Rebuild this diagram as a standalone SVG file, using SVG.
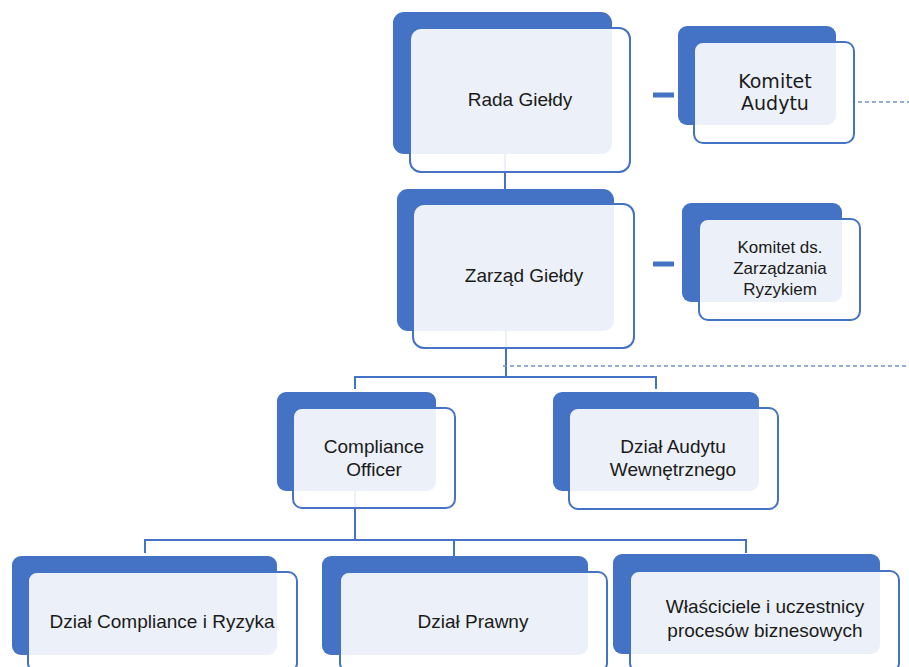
<svg xmlns="http://www.w3.org/2000/svg" width="909" height="667" viewBox="0 0 909 667">
<style>
.back{fill:#4472C4;}
.front{fill:#ffffff;fill-opacity:0.9;stroke:#4472C4;stroke-width:2;}
.conn{fill:none;stroke:#4472C4;stroke-width:2;}
.dash{fill:none;stroke:#6F92D2;stroke-width:1.5;stroke-dasharray:4 3;}
.mark{fill:#4472C4;}
.t{font-family:"Liberation Sans",Arial,sans-serif;font-size:19px;fill:#1a1a1a;text-anchor:middle;}
.tv{font-family:"DejaVu Sans",Verdana,sans-serif;font-size:19px;fill:#1a1a1a;text-anchor:middle;}
.ts{font-family:"Liberation Sans",Arial,sans-serif;font-size:17px;fill:#1a1a1a;text-anchor:middle;}
</style>
<rect width="909" height="667" fill="#ffffff"/>
<g id="connectors">
<line class="conn" x1="505" y1="150" x2="505" y2="190"/>
<polyline class="conn" points="506,328 506,377"/>
<polyline class="conn" points="355,389 355,377 656,377 656,389"/>
<line class="conn" x1="355" y1="488" x2="355" y2="540"/>
<polyline class="conn" points="145,553 145,540 746,540 746,553"/>
<line class="conn" x1="454" y1="540" x2="454" y2="556"/>
<line class="dash" x1="503" y1="366" x2="909" y2="366"/>
<line class="dash" x1="851" y1="102" x2="909" y2="102"/>
<rect class="mark" x="653" y="92.5" width="21" height="5"/>
<rect class="mark" x="653" y="261.5" width="21" height="5"/>
</g>
<g id="rada">
<rect class="back" x="393" y="12" width="219" height="142" rx="11"/>
<rect class="front" x="410" y="28" width="220" height="144" rx="11"/>
<text class="t" x="520" y="106">Rada Giełdy</text>
</g>
<g id="komitet-audytu">
<rect class="back" x="678" y="26" width="158" height="99" rx="9"/>
<rect class="front" x="694" y="42" width="160" height="101" rx="9"/>
<text class="tv" x="775" y="88">Komitet</text>
<text class="tv" x="775" y="110">Audytu</text>
</g>
<g id="zarzad">
<rect class="back" x="397" y="189" width="217" height="142" rx="11"/>
<rect class="front" x="413" y="204" width="221" height="144" rx="11"/>
<text class="t" x="524" y="282">Zarząd Giełdy</text>
</g>
<g id="komitet-ryzyko">
<rect class="back" x="682" y="203" width="160" height="99" rx="9"/>
<rect class="front" x="699" y="219" width="161" height="101" rx="9"/>
<text class="ts" x="780" y="253">Komitet ds.</text>
<text class="ts" x="780" y="274">Zarządzania</text>
<text class="ts" x="780" y="295">Ryzykiem</text>
</g>
<g id="compliance-officer">
<rect class="back" x="277" y="392" width="159" height="99" rx="9"/>
<rect class="front" x="293" y="408" width="162" height="100" rx="9"/>
<text class="t" x="374" y="453">Compliance</text>
<text class="t" x="374" y="476">Officer</text>
</g>
<g id="audyt-wewnetrzny">
<rect class="back" x="553" y="392" width="206" height="99" rx="9"/>
<rect class="front" x="569" y="408" width="209" height="101" rx="9"/>
<text class="t" x="673" y="453">Dział Audytu</text>
<text class="t" x="673" y="476">Wewnętrznego</text>
</g>
<g id="compliance-ryzyka">
<rect class="back" x="12" y="556" width="265" height="99" rx="9"/>
<rect class="front" x="28" y="572" width="269" height="100" rx="9"/>
<text class="t" x="162" y="628">Dział Compliance i Ryzyka</text>
</g>
<g id="prawny">
<rect class="back" x="322" y="556" width="266" height="99" rx="9"/>
<rect class="front" x="340" y="572" width="267" height="100" rx="9"/>
<text class="t" x="473" y="628">Dział Prawny</text>
</g>
<g id="wlasciciele">
<rect class="back" x="613" y="554" width="267" height="100" rx="9"/>
<rect class="front" x="630" y="571" width="269" height="101" rx="9"/>
<text class="t" x="765" y="613">Właściciele i uczestnicy</text>
<text class="t" x="765" y="637">procesów biznesowych</text>
</g>
</svg>
